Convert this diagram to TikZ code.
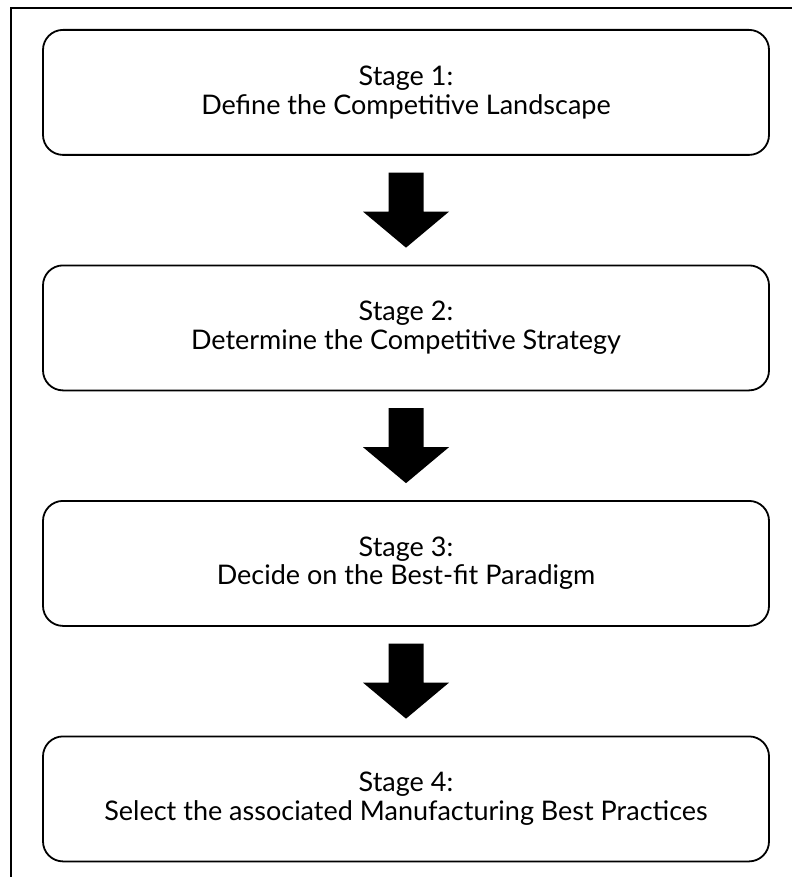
\documentclass[tikz,border=0pt]{standalone}
\usepackage{fontspec}
\setmainfont{Lato}
\usetikzlibrary{calc}
\begin{document}
\begin{tikzpicture}[x=1pt,y=-1pt,
  stagebox/.style={draw=black, line width=1.8pt, rounded corners=20pt,
    minimum width=726pt, minimum height=125pt, anchor=north, align=center,
    font=\fontsize{27}{28.5}\selectfont, text=black, inner sep=0pt},
  flowarrow/.style={fill=black, draw=none},
  frameline/.style={line width=2.4pt, black}]
  \useasboundingbox (0,0) rectangle (792,877);
  % outer frame: top and left edges
  \draw[frameline] (11,877) -- (11,8) -- (792,8);
  % stage boxes
  \node[stagebox] (s1) at (406,29)    {Stage 1:\\Define the Competitive Landscape};
  \node[stagebox] (s2) at (406,264.5) {Stage 2:\\Determine the Competitive Strategy};
  \node[stagebox] (s3) at (406,500)   {Stage 3:\\Decide on the Best-fit Paradigm};
  \node[stagebox] (s4) at (406,735.5) {Stage 4:\\Select the associated Manufacturing Best Practices};
  % block arrows between consecutive stages
  \foreach \a/\b in {s1/s2, s2/s3, s3/s4}{
    \coordinate (m) at ($(\a.south)!0.5!(\b.north)$);
    \fill[flowarrow]
      ($(m)+(-17.5,-37.5)$) -- ($(m)+(17.5,-37.5)$) -- ($(m)+(17.5,1.5)$)
      -- ($(m)+(43,1.5)$) -- ($(m)+(0,37.5)$) -- ($(m)+(-43,1.5)$)
      -- ($(m)+(-17.5,1.5)$) -- cycle;
  }
\end{tikzpicture}
\end{document}
